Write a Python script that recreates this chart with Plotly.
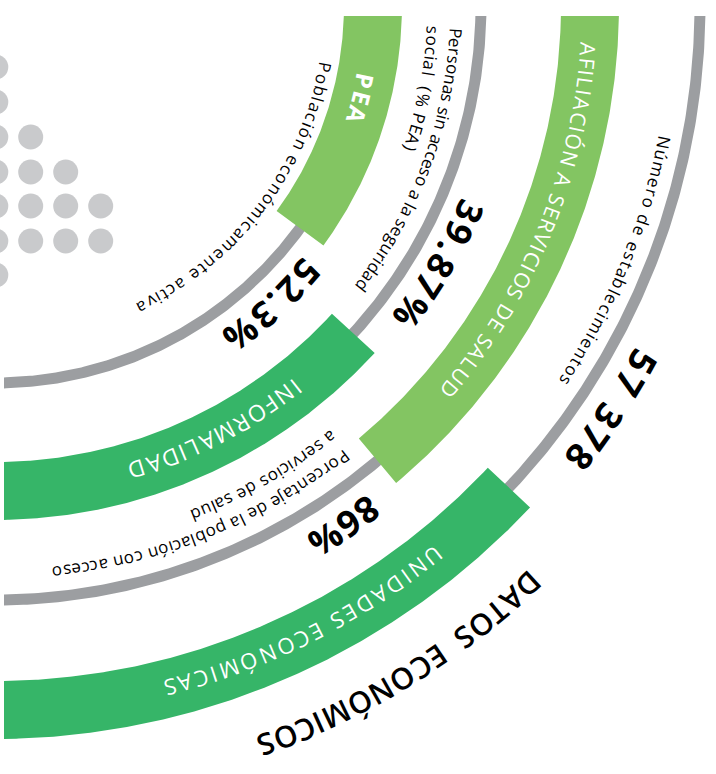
import numpy as np
import plotly.graph_objects as go

# ---------------- data ----------------
categories = ["PEA", "INFORMALIDAD", "AFILIACIÓN A SERVICIOS DE SALUD", "UNIDADES ECONÓMICAS"]
values = ["52.3%", "39.87%", "86%", "57 378"]
desc_line1 = ["Población económicamente activa", "Personas sin acceso a la seguridad",
              "Porcentaje de la población con acceso", "Número de establecimientos"]
desc_line2 = ["", "social  (% PEA)", "a servicios de salud", ""]
title_text = "DATOS  ECONÓMICOS"
dot_rows_y = [67, 102, 137, 172, 206, 241, 275]
dot_row_counts = [1, 1, 2, 3, 4, 4, 1]
dot_cols_x = [-4.2, 30.7, 65.7, 100.7]

# ---------------- layout / style ----------------
W, H = 716, 774
CX, CY = -5.0, 5.0
TOP_Y, LEFT_X = 16.0, 4.0
LIGHT = "#83C562"
DARK = "#36B568"
GRAY = "#9C9EA1"
DOTC = "#C9CACC"
FONT = "Open Sans"

ring_r = [378, 486, 595, 705]
band_color = [LIGHT, DARK, LIGHT, DARK]
band_from = ["top", 42.5, "top", 43.2]
band_to = [36.2, "left", 50.0, "left"]
band_half = 29
gray_half = 5.5

# text placement: (radius, first-char angle, last-char angle, size, weight)
cat_place = [(378, 11.6, 16.9, 24, "bold"), (486, 51.7, 73.0, 23, "normal"),
             (595, 4.3, 40.2, 21, "normal"), (705, 51.5, 75.6, 22, "normal")]
val_place = [(411, 40.7, 53.2, 36), (517, 23.6, 36.3, 36), (628, 53.7, 58.2, 36), (740, 28.9, 37.7, 37)]
d1_place = [(336, 10.7, 64.0), (462, 3.5, 37.3), (571, 52.4, 83.7), (683, 11.6, 33.3)]
d2_place = [None, (439, 3.3, 19.0), (548, 52.2, 68.4), None]
desc_size = 17
title_place = (788, 47.4, 69.9, 30)

# approximate advance widths (em)
REG = {' ': 0.26, 'a': 0.556, 'b': 0.613, 'c': 0.476, 'd': 0.613, 'e': 0.561, 'f': 0.339, 'g': 0.548,
       'h': 0.614, 'i': 0.253, 'j': 0.253, 'k': 0.525, 'l': 0.253, 'm': 0.93, 'n': 0.614, 'o': 0.604,
       'p': 0.613, 'q': 0.613, 'r': 0.408, 's': 0.477, 't': 0.353, 'u': 0.614, 'v': 0.501, 'w': 0.778,
       'x': 0.524, 'y': 0.502, 'z': 0.477, 'ó': 0.604, 'ú': 0.614, 'é': 0.561, 'á': 0.556, 'í': 0.253,
       'A': 0.633, 'B': 0.648, 'C': 0.631, 'D': 0.729, 'E': 0.556, 'F': 0.516, 'G': 0.728, 'H': 0.738,
       'I': 0.279, 'J': 0.267, 'K': 0.639, 'L': 0.549, 'M': 0.903, 'N': 0.756, 'O': 0.781, 'P': 0.601,
       'Q': 0.781, 'R': 0.627, 'S': 0.539, 'T': 0.545, 'U': 0.733, 'V': 0.594, 'W': 0.916, 'X': 0.592,
       'Y': 0.562, 'Z': 0.557, 'Ó': 0.781, 'Ú': 0.733, '.': 0.266, '%': 0.861, '(': 0.294, ')': 0.294}
for d in "0123456789":
    REG[d] = 0.572


def clip_angle(r, a):
    if a == "top":
        return np.degrees(np.arcsin((TOP_Y - CY) / r))
    if a == "left":
        return np.degrees(np.arccos((LEFT_X - CX) / r))
    return a


def sector(r_in, r_out, a0, a1, n=240):
    o = np.radians(np.linspace(clip_angle(r_out, a0), clip_angle(r_out, a1), n))
    i = np.radians(np.linspace(clip_angle(r_in, a1), clip_angle(r_in, a0), n))
    xs = np.concatenate([CX + r_out * np.cos(o), CX + r_in * np.cos(i)])
    ys = np.concatenate([CY + r_out * np.sin(o), CY + r_in * np.sin(i)])
    xs = np.append(xs, xs[0])
    ys = np.append(ys, ys[0])
    return xs, ys


def arc_text(s, R, f0, f1, size, color, weight="normal"):
    k = 1.06 if weight in ("bold", 600) else 1.0
    w = [REG.get(ch, 0.55) * size * (1.0 if ch.isdigit() else k) for ch in s]
    n = len(s)
    anns = []
    if n == 1:
        pos_list = [0.0]
    else:
        base = w[0] / 2 + sum(w[1:-1]) + w[-1] / 2
        L = R * np.radians(f1 - f0)
        t = (L - base) / (n - 1)
        pos_list = [0.0]
        for i in range(1, n):
            pos_list.append(pos_list[-1] + w[i - 1] / 2 + t + w[i] / 2)
    for ch, p in zip(s, pos_list):
        if ch == " ":
            continue
        phi = f0 + np.degrees(p / R)
        pr = np.radians(phi)
        anns.append(dict(x=CX + R * np.cos(pr), y=CY + R * np.sin(pr), xref="x", yref="y",
                         text=ch, showarrow=False, textangle=90 + phi,
                         xanchor="center", yanchor="middle",
                         font=dict(family=FONT, size=size, color=color, weight=weight)))
    return anns


fig = go.Figure()

# dots
dx, dy = [], []
for yv, cnt in zip(dot_rows_y, dot_row_counts):
    for c in range(cnt):
        dx.append(dot_cols_x[c])
        dy.append(yv)
fig.add_trace(go.Scatter(x=dx, y=dy, mode="markers",
                         marker=dict(size=25, color=DOTC, line=dict(width=0)),
                         hoverinfo="skip", showlegend=False))

# gray rings
for R in ring_r:
    xs, ys = sector(R - gray_half, R + gray_half, "top", "left")
    fig.add_trace(go.Scatter(x=xs, y=ys, fill="toself", fillcolor=GRAY, mode="lines",
                             line=dict(width=0, color=GRAY), hoverinfo="skip", showlegend=False))

# coloured bands
for R, col, a0, a1 in zip(ring_r, band_color, band_from, band_to):
    xs, ys = sector(R - band_half, R + band_half, a0, a1)
    fig.add_trace(go.Scatter(x=xs, y=ys, fill="toself", fillcolor=col, mode="lines",
                             line=dict(width=0, color=col), hoverinfo="skip", showlegend=False))

anns = []
for cat, (R, f0, f1, sz, wt) in zip(categories, cat_place):
    anns += arc_text(cat, R, f0, f1, sz, "white", wt)
for v, (R, f0, f1, sz) in zip(values, val_place):
    anns += arc_text(v, R, f0, f1, sz, "black", "bold")
for t1, p in zip(desc_line1, d1_place):
    anns += arc_text(t1, p[0], p[1], p[2], desc_size, "black")
for t2, p in zip(desc_line2, d2_place):
    if t2 and p:
        anns += arc_text(t2, p[0], p[1], p[2], desc_size, "black")
anns += arc_text(title_text, title_place[0], title_place[1], title_place[2], title_place[3], "black", 600)

fig.update_layout(
    width=W, height=H, margin=dict(l=0, r=0, t=0, b=0),
    paper_bgcolor="white", plot_bgcolor="white",
    xaxis=dict(range=[0, W], visible=False, fixedrange=True),
    yaxis=dict(range=[H, 0], visible=False, fixedrange=True),
    annotations=anns, showlegend=False,
)
fig.write_html("out.html", config={"displayModeBar": False},
               post_script="document.body.style.margin='0';document.body.style.overflow='hidden';")
